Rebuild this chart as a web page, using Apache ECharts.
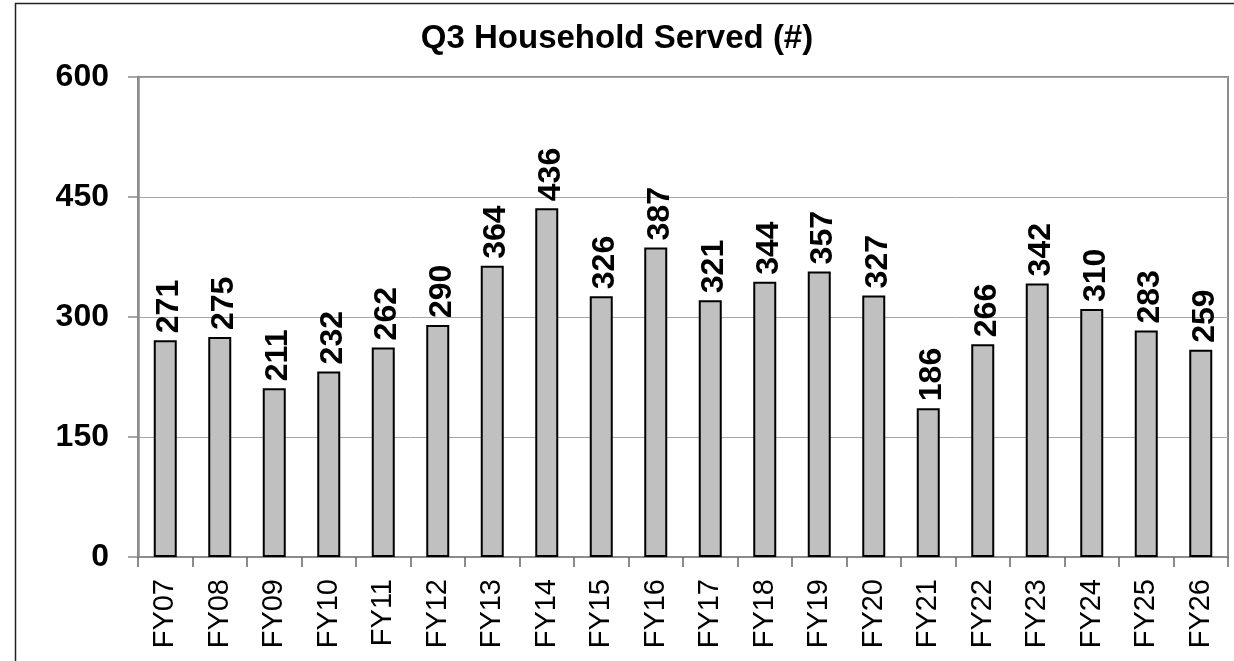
<!DOCTYPE html>
<html>
<head>
<meta charset="utf-8">
<script src="https://cdn.jsdelivr.net/npm/echarts@6/dist/echarts.min.js"></script>
<style>
    html, body { margin: 0; padding: 0; background: #fff; }
    #chart { width: 1234px; height: 661px; }
</style>
</head>
<body>
<div id="chart"></div>
<script>
// 类目与数值
const categories = ['FY07', 'FY08', 'FY09', 'FY10', 'FY11', 'FY12', 'FY13', 'FY14', 'FY15', 'FY16',
    'FY17', 'FY18', 'FY19', 'FY20', 'FY21', 'FY22', 'FY23', 'FY24', 'FY25', 'FY26'];
const households = [271, 275, 211, 232, 262, 290, 364, 436, 326, 387,
    321, 344, 357, 327, 186, 266, 342, 310, 283, 259];
const yTicks = [0, 150, 300, 450, 600];

const font = '"Liberation Sans", Arial, sans-serif';

const chart = echarts.init(document.getElementById('chart'));
chart.setOption({
    animation: false,
    title: {
        text: 'Q3 Household Served (#)',
        left: 'center',
        top: 17,
        textStyle: { fontFamily: font, fontSize: 33, fontWeight: 'bold', color: '#000' }
    },
    graphic: [{
        type: 'rect',
        left: 13,
        top: 1,
        shape: { width: 1400, height: 800 },
        style: { fill: 'none', stroke: '#222', lineWidth: 1.5 },
        silent: true
    }],
    grid: {
        left: 138, top: 77, right: 6, bottom: 104,
        show: true,
        borderColor: '#8c8c8c',
        borderWidth: 2
    },
    xAxis: {
        type: 'category',
        data: categories,
        axisLine: { lineStyle: { color: '#8c8c8c', width: 2 } },
        axisTick: { show: true, length: 10, lineStyle: { color: '#666', width: 1.5 } },
        axisLabel: {
            rotate: 90,
            margin: 22,
            fontFamily: font,
            fontSize: 29,
            color: '#000'
        }
    },
    yAxis: {
        type: 'value',
        min: yTicks[0],
        max: yTicks[yTicks.length - 1],
        interval: 150,
        axisLine: { show: true, lineStyle: { color: '#8c8c8c', width: 2.5 } },
        axisTick: { show: true, length: 10, lineStyle: { color: '#8c8c8c', width: 1.5 } },
        splitLine: { lineStyle: { color: '#a6a6a6', width: 1 } },
        axisLabel: {
            margin: 29,
            fontFamily: font,
            fontSize: 32,
            fontWeight: 'bold',
            color: '#000'
        }
    },
    series: [{
        type: 'bar',
        data: households,
        barWidth: 23,
        itemStyle: { color: '#c0c0c0', borderColor: '#000', borderWidth: 2 },
        label: {
            show: true,
            position: 'top',
            rotate: 90,
            align: 'left',
            verticalAlign: 'middle',
            distance: 7,
            offset: [0, 4],
            fontFamily: font,
            fontSize: 32,
            fontWeight: 'bold',
            color: '#000'
        }
    }]
});
</script>
</body>
</html>
